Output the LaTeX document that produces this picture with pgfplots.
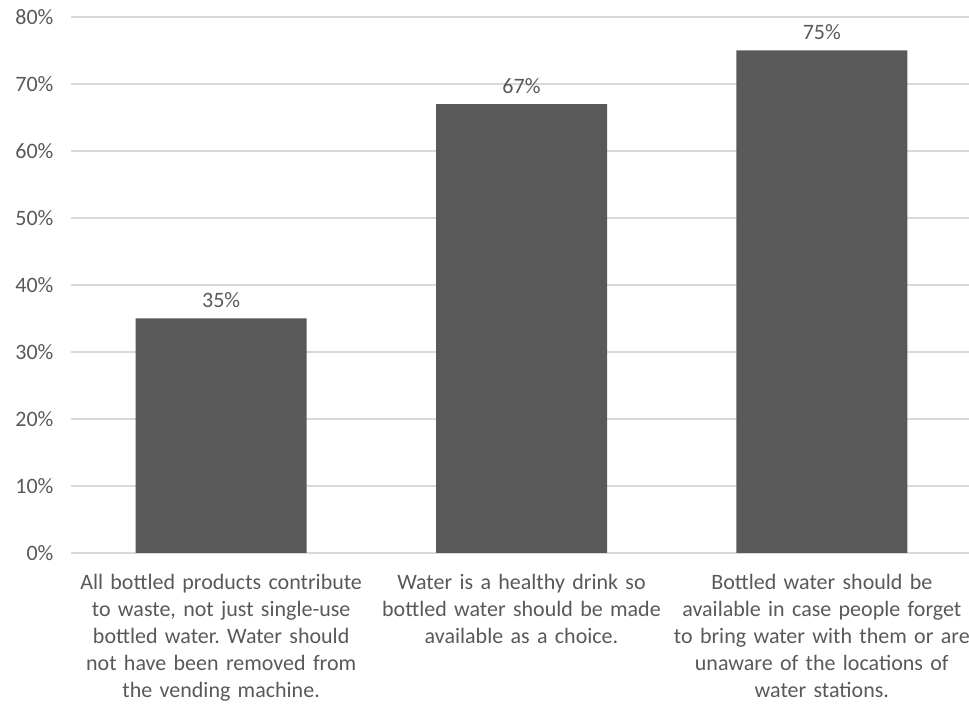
\documentclass[border=0pt]{standalone}
\usepackage{pgfplots}
\pgfplotsset{compat=1.18}
\usepackage{fontspec}
\setmainfont{Carlito}
\frenchspacing
\definecolor{bargray}{HTML}{595959}
\definecolor{txtgray}{HTML}{595959}
\definecolor{gridgray}{HTML}{D9D9D9}
\begin{document}
\begin{tikzpicture}
\path[use as bounding box] (-71pt,-155pt) rectangle (898pt,553pt);
\begin{axis}[
  anchor=south west, at={(0pt,0pt)},
  scale only axis,
  width=901pt, height=536pt,
  xmin=-0.5, xmax=2.5,
  ymin=0, ymax=80,
  ytick={0,10,20,30,40,50,60,70,80},
  yticklabels={0\%,10\%,20\%,30\%,40\%,50\%,60\%,70\%,80\%},
  xtick={0,1,2},
  xticklabels={
    {All bottled products contribute\\to waste, not just single-use\\bottled water. Water should\\not have been removed from\\the vending machine.},
    {Water is a healthy drink so\\bottled water should be made\\available as a choice.},
    {Bottled water should be\\available in case people forget\\to bring water with them or are\\unaware of the locations of\\water stations.}},
  axis line style={draw=none},
  major tick length=0pt,
  ymajorgrids,
  grid style={gridgray, line width=1.2pt},
  /pgf/number format/assume math mode=true,
  ticklabel style={font=\fontsize{22}{27}\selectfont, text=txtgray},
  xticklabel style={align=center, text width=310pt, yshift=-18pt},
  yticklabel style={xshift=-14pt},
  ybar,
  bar width=171pt,
  nodes near coords={\pgfmathprintnumber{\pgfplotspointmeta}\%},
  nodes near coords style={font=\fontsize{22}{27}\selectfont, text=txtgray, yshift=7pt},
]
\addplot[fill=bargray, draw=none] coordinates {(0,35) (1,67) (2,75)};
\end{axis}
\end{tikzpicture}
\end{document}
